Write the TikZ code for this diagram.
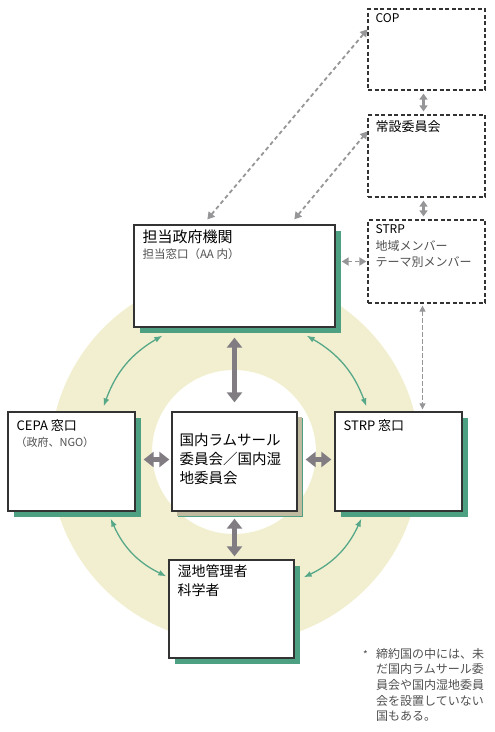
\documentclass[tikz,border=0pt]{standalone}
\usepackage{fontspec}
\setmainfont{Noto Sans CJK JP}
\usetikzlibrary{positioning,arrows.meta,shadows}
\definecolor{ringbeige}{RGB}{241,239,208}
\definecolor{tealshadow}{RGB}{78,160,130}
\definecolor{linkgreen}{RGB}{86,168,136}
\definecolor{khakishadow}{RGB}{192,186,160}
\definecolor{arrowgray}{RGB}{128,124,130}
\definecolor{dashgray}{RGB}{150,150,152}
\definecolor{subgray}{RGB}{80,80,80}
\tikzset{
  orgbox/.style={rectangle,draw=black!80,line width=1.3pt,fill=white,inner sep=0pt,
    drop shadow={shadow xshift=6pt,shadow yshift=-6pt,fill=tealshadow,opacity=1}},
  corebox/.style={orgbox,drop shadow={shadow xshift=5pt,shadow yshift=-5pt,fill=khakishadow,opacity=1}},
  treatybox/.style={rectangle,draw=black!80,line width=1.2pt,dash pattern=on 4pt off 2.5pt,fill=white,inner sep=0pt},
  titletext/.style={anchor=north west,inner sep=0pt,align=left,font=\fontsize{14}{19}\selectfont},
  smalltitle/.style={anchor=north west,inner sep=0pt,align=left,font=\fontsize{12}{15.5}\selectfont},
  subtext/.style={anchor=north west,inner sep=0pt,align=left,text=subgray,font=\fontsize{11.5}{15.5}\selectfont},
  greenlink/.style={{Latex[length=8pt,width=6pt]}-{Latex[length=8pt,width=6pt]},draw=linkgreen,line width=1.3pt},
  thicklink/.style={{Triangle[length=10pt,width=15pt]}-{Triangle[length=10pt,width=15pt]},draw=arrowgray,line width=5pt},
  dashlink/.style={{Triangle[length=7pt,width=8pt]}-{Triangle[length=7pt,width=8pt]},draw=dashgray,line width=1.8pt,dash pattern=on 4pt off 3pt},
  stacklink/.style={{Triangle[length=6pt,width=8pt]}-{Triangle[length=6pt,width=8pt]},draw=dashgray,line width=3pt},
  thindash/.style={{Triangle[length=6pt,width=6pt]}-{Triangle[length=6pt,width=6pt]},draw=dashgray,line width=1pt,dash pattern=on 5pt off 2pt}
}
\begin{document}
\begin{tikzpicture}[x=1pt,y=-1pt]
  \useasboundingbox (0,0) rectangle (495,732);
  % ring
  \fill[ringbeige,even odd rule] (235,458) circle[radius=185] (234,452) circle[radius=82];

  % treaty bodies
  \node[treatybox,minimum width=117pt,minimum height=81pt] (cop) at (426.5,49.5) {};
  \node[treatybox,minimum width=117pt,minimum height=82pt] (perm) at (426.5,156) {};
  \node[treatybox,minimum width=117pt,minimum height=83pt] (strp) at (426.5,261.5) {};
  \node[smalltitle] (coptext) at ([shift={(8,5)}]cop.north west) {COP};
  \node[titletext,font=\fontsize{13}{17}\selectfont] (permtext) at ([shift={(8,6)}]perm.north west) {常設委員会};
  \node[smalltitle] (strptext) at ([shift={(8,5)}]strp.north west) {STRP};
  \node[subtext,font=\fontsize{12}{15.5}\selectfont] (strpsub) at ([shift={(8,21)}]strp.north west) {地域メンバー\\テーマ別メンバー};

  % national bodies
  \node[orgbox,minimum width=201pt,minimum height=102pt] (gov) at (234.5,276) {};
  \node[orgbox,minimum width=127pt,minimum height=99pt] (cepa) at (71.5,461.5) {};
  \node[corebox,minimum width=125pt,minimum height=99pt] (center) at (234.5,461.5) {};
  \node[orgbox,minimum width=127pt,minimum height=99pt] (strpw) at (398.5,461.5) {};
  \node[orgbox,minimum width=125pt,minimum height=98pt] (wet) at (231.5,609) {};

  \node[titletext,font=\fontsize{15}{19}\selectfont] (govtext) at ([shift={(9,5)}]gov.north west) {担当政府機関};
  \node[subtext] (govsub) at ([shift={(9,24)}]gov.north west) {担当窓口（AA 内）};
  \node[titletext,font=\fontsize{13}{17}\selectfont] (cepatext) at ([shift={(9,8)}]cepa.north west) {CEPA 窓口};
  \node[subtext,font=\fontsize{11}{14}\selectfont] (cepasub) at ([shift={(8,26)}]cepa.north west) {（政府、NGO）};
  \node[titletext,font=\fontsize{14.5}{19}\selectfont] (centertext) at ([shift={(8,22)}]center.north west) {国内ラムサール\\委員会／国内湿\\地委員会};
  \node[titletext,font=\fontsize{13}{17}\selectfont] (strpwtext) at ([shift={(9,8)}]strpw.north west) {STRP 窓口};
  \node[titletext] (wettext) at ([shift={(9,5)}]wet.north west) {湿地管理者\\科学者};

  % note
  \node[anchor=north west,inner sep=0pt,text=subgray,font=\fontsize{10}{12}\selectfont] (notemark) at (363,650) {*};
  \node[anchor=north west,inner sep=0pt,align=left,text=subgray,font=\fontsize{12}{15.6}\selectfont] (note) at (376,648)
    {締約国の中には、未\\だ国内ラムサール委\\員会や国内湿地委員\\会を設置していない\\国もある。};

  % links inside the ring
  \draw[greenlink] ([shift={(29,8)}]gov.south west) to[bend right=20] ([shift={(-32,-5)}]cepa.north east);
  \draw[greenlink] ([shift={(-29,8)}]gov.south east) to[bend left=20] ([shift={(32,-5)}]strpw.north west);
  \draw[greenlink] ([shift={(-25,7)}]cepa.south east) to[bend right=20] ([shift={(-2,17)}]wet.north west);
  \draw[greenlink] ([shift={(27,7)}]strpw.south west) to[bend left=20] ([shift={(9,18)}]wet.north east);

  \draw[thicklink] ([shift={(0,10)}]gov.south) -- ([shift={(0,-9)}]center.north);
  \draw[thicklink] ([shift={(0,7)}]center.south) -- ([shift={(0,-3)}]center.south |- wet.north);
  \draw[thicklink] ([shift={(8,-2)}]cepa.east) -- ([shift={(-2,-2)}]center.west);
  \draw[thicklink] ([shift={(8,-2)}]center.east) -- ([shift={(-3,-2)}]strpw.west);

  % links to treaty bodies
  \draw[dashlink] ([shift={(74,-5)}]gov.north west) -- ([shift={(0,21)}]cop.north west);
  \draw[dashlink] ([shift={(161,-5)}]gov.north west) -- ([shift={(0,17)}]perm.north west);
  \draw[dashlink] ([shift={(6,0)}]gov.east |- strp.west) -- ([shift={(-1,0)}]strp.west);
  \draw[stacklink] ([shift={(-3,3)}]cop.south) -- ([shift={(-3,-3)}]perm.north);
  \draw[stacklink] ([shift={(-3,3)}]perm.south) -- ([shift={(-3,-3)}]strp.north);
  \draw[thindash] ([shift={(-4,2)}]strp.south) -- ([shift={(-4,-2)}]strp.south |- strpw.north);
\end{tikzpicture}
\end{document}
